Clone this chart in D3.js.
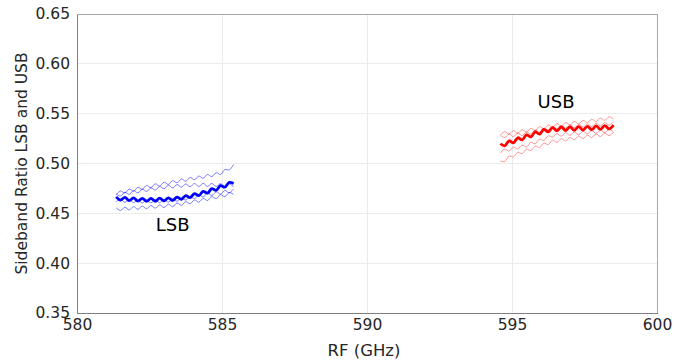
<!DOCTYPE html>
<html>
<head>
<meta charset="utf-8">
<script src="https://cdn.jsdelivr.net/npm/d3@7"></script>
<style>
  html, body { margin: 0; padding: 0; background: #fff; }
  svg { display: block; font-family: "DejaVu Sans", sans-serif; }
</style>
</head>
<body>
<svg id="chart" width="684" height="361"></svg>
<script>
// ---------- data ----------
const xTicks = [580, 585, 590, 595, 600];
const yTicks = [0.35, 0.40, 0.45, 0.50, 0.55, 0.60, 0.65];
const xLabel = "RF (GHz)";
const yLabel = "Sideband Ratio LSB and USB";

const lsbFreq = [581.35, 581.50, 581.65, 581.80, 581.95, 582.10, 582.25, 582.40, 582.55, 582.70,
                 582.85, 583.00, 583.15, 583.30, 583.45, 583.60, 583.75, 583.90, 584.05, 584.20,
                 584.35, 584.50, 584.65, 584.80, 584.95, 585.10, 585.25, 585.40];
const lsbMean = [0.4665, 0.4632, 0.4660, 0.4627, 0.4655, 0.4623, 0.4651, 0.4620, 0.4650, 0.4621,
                 0.4652, 0.4624, 0.4656, 0.4629, 0.4663, 0.4640, 0.4678, 0.4657, 0.4697, 0.4678,
                 0.4720, 0.4703, 0.4747, 0.4732, 0.4777, 0.4763, 0.4810, 0.4800];
const lsb1 = [0.4685, 0.4724, 0.4704, 0.4743, 0.4723, 0.4762, 0.4741, 0.4780, 0.4758, 0.4796,
              0.4774, 0.4812, 0.4790, 0.4828, 0.4806, 0.4844, 0.4822, 0.4860, 0.4837, 0.4874,
              0.4852, 0.4890, 0.4868, 0.4908, 0.4890, 0.4940, 0.4935, 0.4990];
const lsb2 = [0.4695, 0.4673, 0.4712, 0.4690, 0.4728, 0.4705, 0.4742, 0.4719, 0.4756, 0.4733,
              0.4770, 0.4746, 0.4781, 0.4755, 0.4789, 0.4762, 0.4795, 0.4767, 0.4799, 0.4770,
              0.4801, 0.4771, 0.4800, 0.4769, 0.4798, 0.4767, 0.4796, 0.4765];
const lsb3 = [0.4615, 0.4643, 0.4611, 0.4639, 0.4607, 0.4636, 0.4605, 0.4635, 0.4605, 0.4636,
              0.4607, 0.4639, 0.4612, 0.4645, 0.4620, 0.4656, 0.4633, 0.4670, 0.4648, 0.4686,
              0.4664, 0.4702, 0.4679, 0.4716, 0.4693, 0.4730, 0.4707, 0.4745];
const lsb4 = [0.4555, 0.4528, 0.4561, 0.4534, 0.4567, 0.4540, 0.4573, 0.4546, 0.4579, 0.4552,
              0.4585, 0.4558, 0.4592, 0.4567, 0.4603, 0.4580, 0.4618, 0.4596, 0.4634, 0.4612,
              0.4650, 0.4629, 0.4668, 0.4647, 0.4687, 0.4667, 0.4708, 0.4690];

const usbFreq = [594.60, 594.75, 594.90, 595.05, 595.20, 595.35, 595.50, 595.65, 595.80, 595.95,
                 596.10, 596.25, 596.40, 596.55, 596.70, 596.85, 597.00, 597.15, 597.30, 597.45,
                 597.60, 597.75, 597.90, 598.05, 598.20, 598.35, 598.50];
const usbMean = [0.5198, 0.5177, 0.5228, 0.5207, 0.5258, 0.5237, 0.5288, 0.5267, 0.5318, 0.5295,
                 0.5343, 0.5317, 0.5360, 0.5328, 0.5366, 0.5331, 0.5368, 0.5333, 0.5370, 0.5335,
                 0.5373, 0.5339, 0.5377, 0.5343, 0.5381, 0.5347, 0.5385];
const usb1 = [0.5285, 0.5320, 0.5295, 0.5330, 0.5305, 0.5340, 0.5315, 0.5353, 0.5332, 0.5370,
              0.5348, 0.5387, 0.5365, 0.5400, 0.5376, 0.5411, 0.5387, 0.5422, 0.5398, 0.5433,
              0.5409, 0.5445, 0.5421, 0.5457, 0.5433, 0.5469, 0.5445];
const usb2 = [0.5285, 0.5260, 0.5295, 0.5270, 0.5305, 0.5280, 0.5315, 0.5295, 0.5335, 0.5315,
              0.5355, 0.5335, 0.5373, 0.5347, 0.5380, 0.5353, 0.5386, 0.5359, 0.5392, 0.5365,
              0.5398, 0.5371, 0.5404, 0.5377, 0.5411, 0.5385, 0.5420];
const usb3 = [0.5105, 0.5145, 0.5125, 0.5165, 0.5145, 0.5185, 0.5165, 0.5212, 0.5198, 0.5245,
              0.5232, 0.5278, 0.5265, 0.5300, 0.5274, 0.5308, 0.5282, 0.5316, 0.5289, 0.5323,
              0.5297, 0.5330, 0.5303, 0.5336, 0.5309, 0.5342, 0.5315];
const usb4 = [0.5025, 0.5020, 0.5075, 0.5067, 0.5113, 0.5099, 0.5145, 0.5130, 0.5175, 0.5160,
              0.5205, 0.5190, 0.5235, 0.5212, 0.5249, 0.5225, 0.5262, 0.5239, 0.5275, 0.5250,
              0.5285, 0.5260, 0.5295, 0.5270, 0.5305, 0.5280, 0.5315];

const labels = [
  { text: "LSB", x: 583.30, y: 0.4370 },
  { text: "USB", x: 596.52, y: 0.5607 }
];

// ---------- layout ----------
const svg = d3.select("#chart");
const L = 77, R = 657, T = 14, B = 313;
const x = d3.scaleLinear().domain([580, 600]).range([L, R]);
const y = d3.scaleLinear().domain([0.35, 0.65]).range([B, T]);
const textCol = "#262626";

// grid
svg.append("g").selectAll("line").data(xTicks.slice(1, -1)).join("line")
  .attr("x1", d => x(d)).attr("x2", d => x(d)).attr("y1", T).attr("y2", B)
  .attr("stroke", "#ebebeb").attr("stroke-width", 1).attr("shape-rendering", "crispEdges");
svg.append("g").selectAll("line").data(yTicks.slice(1, -1)).join("line")
  .attr("x1", L).attr("x2", R).attr("y1", d => y(d)).attr("y2", d => y(d))
  .attr("stroke", "#ebebeb").attr("stroke-width", 1).attr("shape-rendering", "crispEdges");

// box
svg.append("rect").attr("x", L).attr("y", T).attr("width", R - L).attr("height", B - T)
  .attr("fill", "none").attr("stroke", "#a6a6a6").attr("stroke-width", 1)
  .attr("shape-rendering", "crispEdges");

// axes
const xAxis = d3.axisBottom(x).tickValues(xTicks).tickSize(0).tickPadding(6)
  .tickFormat(d3.format("d"));
const gx = svg.append("g").attr("transform", `translate(0,${B})`).call(xAxis);
const yAxis = d3.axisLeft(y).tickValues(yTicks).tickSize(0).tickPadding(7)
  .tickFormat(d3.format(".2f"));
const gy = svg.append("g").attr("transform", `translate(${L},0)`).call(yAxis);
[gx, gy].forEach(g => {
  g.select(".domain").attr("stroke", "#808080").attr("shape-rendering", "crispEdges");
  g.selectAll("text").attr("fill", textCol).style("font-size", "15.5px")
    .style("font-family", "'DejaVu Sans', sans-serif");
});

svg.append("text").attr("x", (L + R) / 2 - 3).attr("y", 356).attr("text-anchor", "middle")
  .attr("fill", textCol).style("font-size", "16.5px").text(xLabel);
svg.append("text").attr("transform", `translate(27,${(T + B) / 2}) rotate(-90)`)
  .attr("text-anchor", "middle").attr("fill", textCol).style("font-size", "15.5px").text(yLabel);

// lines
const makeLine = fx => d3.line()
  .x((d, i) => x(fx[i])).y(d => y(d)).curve(d3.curveCatmullRom);

const series = [
  { f: lsbFreq, v: lsb1, c: "rgba(0,0,255,0.5)", w: 1 },
  { f: lsbFreq, v: lsb2, c: "rgba(0,0,255,0.5)", w: 1 },
  { f: lsbFreq, v: lsb3, c: "rgba(0,0,255,0.5)", w: 1 },
  { f: lsbFreq, v: lsb4, c: "rgba(0,0,255,0.5)", w: 1 },
  { f: lsbFreq, v: lsbMean, c: "#0000ff", w: 2.8 },
  { f: usbFreq, v: usb1, c: "rgba(255,0,0,0.4)", w: 1 },
  { f: usbFreq, v: usb2, c: "rgba(255,0,0,0.4)", w: 1 },
  { f: usbFreq, v: usb3, c: "rgba(255,0,0,0.4)", w: 1 },
  { f: usbFreq, v: usb4, c: "rgba(255,0,0,0.4)", w: 1 },
  { f: usbFreq, v: usbMean, c: "#ff0000", w: 2.8 }
];
svg.append("g").selectAll("path").data(series).join("path")
  .attr("d", s => makeLine(s.f)(s.v))
  .attr("fill", "none").attr("stroke", s => s.c).attr("stroke-width", s => s.w)
  .attr("stroke-linejoin", "round");

svg.append("g").selectAll("text").data(labels).join("text")
  .attr("x", d => x(d.x)).attr("y", d => y(d.y)).attr("text-anchor", "middle")
  .attr("dominant-baseline", "middle").attr("fill", "#000").style("font-size", "18px")
  .text(d => d.text);
</script>
</body>
</html>
